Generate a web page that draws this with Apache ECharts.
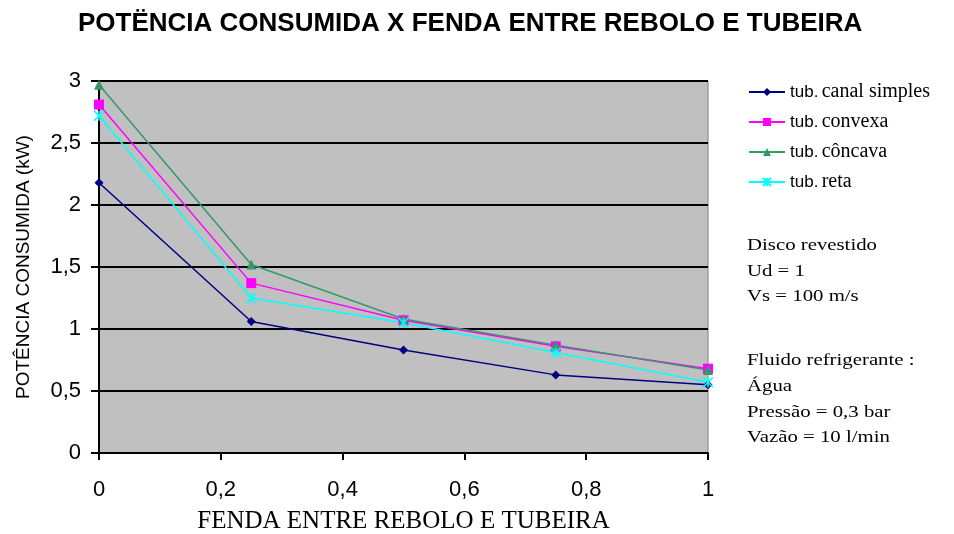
<!DOCTYPE html>
<html><head><meta charset="utf-8">
<script src="https://cdn.jsdelivr.net/npm/echarts@6/dist/echarts.min.js"></script>
<style>html,body{margin:0;padding:0;background:#fff}#c{width:954px;height:534px}</style>
</head><body><div id="c"></div>
<script>
const fenda = [0, 0.25, 0.5, 0.75, 1];
const canalSimples = [2.18, 1.06, 0.83, 0.63, 0.55];
const convexa = [2.81, 1.37, 1.07, 0.86, 0.68];
const concava = [2.97, 1.52, 1.08, 0.87, 0.67];
const reta = [2.72, 1.25, 1.05, 0.81, 0.57];
const seriesNames = ['tub. canal simples', 'tub. convexa', 'tub. côncava', 'tub. reta'];
const notes = ['Disco revestido', 'Ud = 1', 'Vs = 100 m/s', 'Fluido refrigerante :', 'Água', 'Pressão = 0,3 bar', 'Vazão = 10 l/min'];
const noteRows = [0, 1, 2, 4.5, 5.5, 6.5, 7.5];

const pairs = arr => fenda.map((x, i) => [x, arr[i]]);
const comma = v => String(v).replace('.', ',');
const xMark = 'path://M0,0L10,10M10,0L0,10M5,0L5,10';

const chart = echarts.init(document.getElementById('c'));
chart.setOption({
  animation: false,
  backgroundColor: '#ffffff',
  title: {
    text: 'POTËNCIA CONSUMIDA X FENDA ENTRE REBOLO E TUBEIRA',
    left: 73, top: 6,
    textStyle: { fontFamily: 'Liberation Sans', fontWeight: 'bold', fontSize: 26, color: '#000' }
  },
  grid: { left: 99, right: 246, top: 81, bottom: 81, outerBoundsMode: 'none', containLabel: false,
    show: true, backgroundColor: '#C0C0C0', borderColor: '#808080', borderWidth: 1 },
  legend: {
    orient: 'vertical', left: 743, top: 77, itemWidth: 36, itemHeight: 10, itemGap: 10,
    data: seriesNames,
    formatter: n => '{a|tub.} {b|' + n.replace('tub. ', '') + '}',
    textStyle: {
      color: '#000',
      rich: {
        a: { fontFamily: 'Liberation Sans', fontSize: 17, color: '#000' },
        b: { fontFamily: 'Liberation Serif', fontSize: 20, color: '#000' }
      }
    }
  },
  xAxis: {
    type: 'value', min: 0, max: 1, interval: 0.2,
    name: 'FENDA ENTRE REBOLO E TUBEIRA', nameLocation: 'middle', nameGap: 56,
    nameTextStyle: { fontFamily: 'Liberation Serif', fontSize: 25, color: '#000' },
    axisLine: { show: true, lineStyle: { color: '#000', width: 2 } },
    axisTick: { show: true, inside: false, length: 7, lineStyle: { color: '#000', width: 2 } },
    axisLabel: { formatter: v => comma(v), fontFamily: 'Liberation Sans', fontSize: 22, color: '#000', margin: 26 },
    splitLine: { show: false }
  },
  yAxis: {
    type: 'value', min: 0, max: 3, interval: 0.5,
    name: 'POTÊNCIA CONSUMIDA (kW)', nameLocation: 'middle', nameGap: 66, nameRotate: 90,
    nameTextStyle: { fontFamily: 'Liberation Sans', fontSize: 19, color: '#000' },
    axisLine: { show: true, lineStyle: { color: '#000', width: 2 } },
    axisTick: { show: true, inside: false, length: 8, lineStyle: { color: '#000', width: 2 } },
    axisLabel: { formatter: v => comma(v), fontFamily: 'Liberation Sans', fontSize: 22, color: '#000', margin: 18 },
    splitLine: { show: true, lineStyle: { color: '#000', width: 2 } }
  },
  graphic: notes.map((t, i) => ({
    type: 'text', x: 747, y: 238 + noteRows[i] * 25.6, scaleX: 1.3,
    style: { text: t, fontFamily: 'Liberation Serif', fontSize: 16, fill: '#000' }
  })),
  series: [
    { name: seriesNames[0], type: 'line', data: pairs(canalSimples), symbol: 'diamond', symbolSize: 9,
      lineStyle: { color: '#000080', width: 1.5 }, itemStyle: { color: '#000080' } },
    { name: seriesNames[1], type: 'line', data: pairs(convexa), symbol: 'rect', symbolSize: 10,
      lineStyle: { color: '#FF00FF', width: 1.5 }, itemStyle: { color: '#FF00FF' } },
    { name: seriesNames[2], type: 'line', data: pairs(concava), symbol: 'triangle', symbolSize: 10,
      lineStyle: { color: '#339966', width: 1.5 }, itemStyle: { color: '#339966' } },
    { name: seriesNames[3], type: 'line', data: pairs(reta), symbol: xMark, symbolSize: 10,
      lineStyle: { color: '#00FFFF', width: 1.5 }, itemStyle: { color: 'transparent', borderColor: '#00FFFF', borderWidth: 1.5 } }
  ]
});
</script></body></html>
